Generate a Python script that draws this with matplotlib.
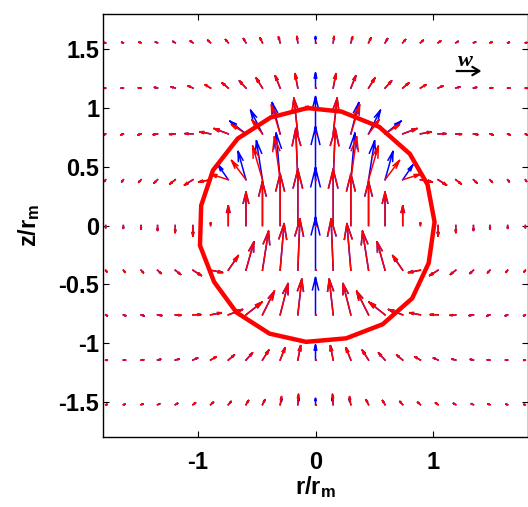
import numpy as np
import matplotlib
matplotlib.use('Agg')
import matplotlib.pyplot as plt

plt.rcParams['font.family'] = ['Liberation Sans', 'DejaVu Sans']
plt.rcParams['font.weight'] = 'bold'
plt.rcParams['axes.unicode_minus'] = False
plt.rcParams['mathtext.fontset'] = 'custom'
plt.rcParams['mathtext.rm'] = 'Liberation Sans:bold'
plt.rcParams['mathtext.it'] = 'Liberation Sans:bold'
plt.rcParams['mathtext.bf'] = 'Liberation Sans:bold'

# --- grid of the velocity field (r/r_m columns, z/r_m rows, top row first) ---
r_cols = [-1.78, -1.63, -1.48, -1.34, -1.19, -1.04, -0.89, -0.74, -0.59, -0.45, -0.30, -0.15, 0.0,
          0.15, 0.30, 0.45, 0.59, 0.74, 0.89, 1.04, 1.19, 1.34, 1.48, 1.63, 1.78]
z_rows = [1.555, 1.17, 0.78, 0.39, 0.0, -0.38, -0.76, -1.145, -1.525]

# velocity components in units of w (x100), blue set
blue_u = [
    [-6, -7, -8, -9, -10, -11, -12, -12, -11, -10, -7, -4, 0, 4, 7, 10, 11, 12, 12, 11, 10, 9, 8, 7, 6],
    [-7, -9, -11, -13, -17, -20, -23, -26, -28, -27, -21, -12, 0, 12, 21, 27, 28, 26, 23, 20, 17, 13, 11, 9, 7],
    [-7, -10, -13, -18, -24, -33, -46, -61, -69, -51, -34, -17, 0, 17, 34, 51, 69, 61, 46, 33, 24, 18, 13, 10, 7],
    [-5, -7, -10, -15, -23, -36, -51, -43, -34, -26, -17, -9, 0, 9, 17, 26, 34, 43, 51, 36, 23, 15, 10, 7, 5],
    [0, 0, 0, 0, 0, 0, 0, 0, 0, 0, 0, 0, 0, 0, 0, 0, 0, 0, 0, 0, 0, 0, 0, 0, 0],
    [5, 7, 10, 15, 23, 36, 51, 43, 34, 26, 17, 9, 0, -9, -17, -26, -34, -43, -51, -36, -23, -15, -10, -7, -5],
    [7, 10, 13, 18, 24, 33, 46, 61, 69, 51, 34, 17, 0, -17, -34, -51, -69, -61, -46, -33, -24, -18, -13, -10, -7],
    [7, 9, 11, 13, 17, 20, 23, 26, 28, 27, 21, 12, 0, -12, -21, -27, -28, -26, -23, -20, -17, -13, -11, -9, -7],
    [6, 7, 8, 9, 10, 11, 12, 12, 11, 10, 7, 4, 0, -4, -7, -10, -11, -12, -12, -11, -10, -9, -8, -7, -6],
]
blue_w = [
    [1, 2, 3, 4, 6, 8, 11, 14, 18, 21, 25, 27, 27, 27, 25, 21, 18, 14, 11, 8, 6, 4, 3, 2, 1],
    [-1, 0, 1, 3, 5, 9, 14, 22, 31, 43, 53, 62, 65, 62, 53, 43, 31, 22, 14, 9, 5, 3, 1, 0, -1],
    [-4, -4, -4, -3, -2, 1, 9, 23, 55, 102, 135, 154, 161, 154, 135, 102, 55, 23, 9, 1, -2, -3, -4, -4, -4],
    [-7, -9, -11, -14, -18, -23, -10, 63, 122, 168, 201, 221, 228, 221, 201, 168, 122, 63, -10, -23, -18, -14, -11, -9, -7],
    [-9, -12, -15, -21, -30, -45, 12, 85, 144, 191, 224, 243, 250, 243, 224, 191, 144, 85, 12, -45, -30, -21, -15, -12, -9],
    [-7, -9, -11, -14, -18, -23, -10, 63, 122, 168, 201, 221, 228, 221, 201, 168, 122, 63, -10, -23, -18, -14, -11, -9, -7],
    [-4, -4, -4, -3, -2, 1, 9, 23, 55, 102, 135, 154, 161, 154, 135, 102, 55, 23, 9, 1, -2, -3, -4, -4, -4],
    [-1, 0, 1, 3, 5, 9, 14, 22, 31, 43, 53, 62, 65, 62, 53, 43, 31, 22, 14, 9, 5, 3, 1, 0, -1],
    [1, 2, 3, 4, 6, 8, 11, 14, 18, 21, 25, 27, 27, 27, 25, 21, 18, 14, 11, 8, 6, 4, 3, 2, 1],
]

# red set
red_u = [
    [-6, -7, -8, -9, -10, -11, -12, -12, -11, -10, -7, -4, 0, 4, 7, 10, 11, 12, 12, 11, 10, 9, 8, 7, 6],
    [-7, -9, -11, -13, -17, -20, -23, -26, -28, -27, -21, -12, 0, 12, 21, 27, 28, 26, 23, 20, 17, 13, 11, 9, 7],
    [-7, -10, -13, -18, -24, -33, -46, -61, -62, -45, -38, -17, 0, 17, 38, 45, 62, 61, 46, 33, 24, 18, 13, 10, 7],
    [-5, -7, -10, -15, -23, -36, -51, -76, -62, -42, -25, -9, 0, 9, 25, 42, 62, 76, 51, 36, 23, 15, 10, 7, 5],
    [0, 0, 0, 0, 0, 0, 0, 0, 0, 0, 0, 0, 0, 0, 0, 0, 0, 0, 0, 0, 0, 0, 0, 0, 0],
    [5, 7, 10, 15, 23, 36, 51, 43, 34, 26, 17, 9, 0, -9, -17, -26, -34, -43, -51, -36, -23, -15, -10, -7, -5],
    [7, 10, 13, 18, 24, 33, 46, 61, 69, 51, 34, 17, 0, -17, -34, -51, -69, -61, -46, -33, -24, -18, -13, -10, -7],
    [7, 9, 11, 13, 17, 20, 23, 26, 28, 27, 21, 12, 0, -12, -21, -27, -28, -26, -23, -20, -17, -13, -11, -9, -7],
    [6, 7, 8, 9, 10, 11, 12, 12, 11, 10, 6, 3, 0, -3, -6, -10, -11, -12, -12, -11, -10, -9, -8, -7, -6],
]
red_w = [
    [1, 2, 3, 4, 6, 8, 11, 14, 18, 21, 25, 27, 0, 27, 25, 21, 18, 14, 11, 8, 6, 4, 3, 2, 1],
    [-1, 0, 1, 3, 5, 9, 14, 22, 31, 43, 53, 62, 0, 62, 53, 43, 31, 22, 14, 9, 5, 3, 1, 0, -1],
    [-4, -4, -4, -3, -2, 1, 9, 23, 40, 60, 125, 154, 0, 154, 125, 60, 40, 23, 9, 1, -2, -3, -4, -4, -4],
    [-7, -9, -11, -14, -18, -23, -10, 24, 83, 145, 185, 221, 0, 221, 185, 145, 83, 24, -10, -23, -18, -14, -11, -9, -7],
    [-9, -12, -15, -21, -30, -45, 12, 85, 144, 191, 224, 243, 0, 243, 224, 191, 144, 85, 12, -45, -30, -21, -15, -12, -9],
    [-7, -9, -11, -14, -18, -23, -10, 63, 122, 168, 201, 221, 0, 221, 201, 168, 122, 63, -10, -23, -18, -14, -11, -9, -7],
    [-4, -4, -4, -3, -2, 1, 9, 23, 55, 102, 135, 154, 0, 154, 135, 102, 55, 23, 9, 1, -2, -3, -4, -4, -4],
    [-1, 0, 1, 3, 5, 9, 14, 22, 31, 43, 53, 62, 0, 62, 53, 43, 31, 22, 14, 9, 5, 3, 1, 0, -1],
    [1, 2, 3, 4, 6, 8, 11, 14, 18, 21, 35, 45, 0, 45, 35, 21, 18, 14, 11, 8, 6, 4, 3, 2, 1],
]

# vortex boundary (red polygon)
boundary_r = [-0.07, -0.38, -0.66, -0.87, -0.97, -0.98, -0.86, -0.67, -0.39, -0.08,
              0.26, 0.57, 0.82, 0.96, 1.01, 0.95, 0.80, 0.54, 0.22, -0.07]
boundary_z = [1.00, 0.92, 0.74, 0.47, 0.17, -0.17, -0.48, -0.74, -0.92, -0.99,
              -0.96, -0.84, -0.62, -0.32, 0.03, 0.35, 0.61, 0.84, 0.97, 1.00]

ref_w = 1.07      # reference arrow "w"
SCALE = 0.197     # data units per unit of w
ALPHA, BETA = 0.33, 0.25   # matlab-like arrow heads


def arrow_paths(u_tab, w_tab):
    """Shafts and open heads as NaN separated polylines, plus zero vectors."""
    xs, ys, zx, zy = [], [], [], []
    for i, z0 in enumerate(z_rows):
        for j, r0 in enumerate(r_cols):
            u = u_tab[i][j] / 100.0 * SCALE
            w = w_tab[i][j] / 100.0 * SCALE
            if u == 0 and w == 0:
                zx.append(r0)
                zy.append(z0)
                continue
            tx, ty = r0 + u, z0 + w
            xs += [r0, tx, np.nan,
                   tx - ALPHA * (u + BETA * w), tx, tx - ALPHA * (u - BETA * w), np.nan]
            ys += [z0, ty, np.nan,
                   ty - ALPHA * (w - BETA * u), ty, ty - ALPHA * (w + BETA * u), np.nan]
    return xs, ys, zx, zy


fig = plt.figure(figsize=(5.28, 5.07), dpi=100)
ax = fig.add_axes([0.1957, 0.138, 0.8037, 0.8343])

bx, by, _, _ = arrow_paths(blue_u, blue_w)
ax.plot(bx, by, color='#0000ff', lw=1.1)
rx, ry, rzx, rzy = arrow_paths(red_u, red_w)
ax.plot(rx, ry, color='#ff0000', lw=1.1)
ax.plot(rzx, rzy, 's', color='#ff0000', ms=1.8, mew=0)

ax.plot(boundary_r, boundary_z, color='#ff0000', lw=3.2, zorder=5)

# reference arrow
ax.annotate('', xy=(1.197 + ref_w * SCALE, 1.315), xytext=(1.197, 1.315),
            arrowprops=dict(arrowstyle='->,head_length=0.5,head_width=0.3',
                            color='k', lw=1.6, shrinkA=0, shrinkB=0))
ax.text(1.273, 1.40, 'w', family='Liberation Serif', style='italic',
        weight='bold', fontsize=16, ha='center', va='center')

ax.set_xlim(-1.8, 1.8)
ax.set_ylim(-1.8, 1.8)
ax.set_xticks([-1, 0, 1])
ax.set_xticklabels(['-1', '0', '1'])
ax.set_yticks([-1.5, -1, -0.5, 0, 0.5, 1, 1.5])
ax.set_yticklabels(['-1.5', '-1', '-0.5', '0', '0.5', '1', '1.5'])
ax.tick_params(direction='in', top=True, right=True, length=4, width=0.8,
               labelsize=17)
ax.tick_params(axis='x', pad=10)
ax.tick_params(axis='y', pad=3)
for s in ax.spines.values():
    s.set_linewidth(1.0)

ax.set_xlabel(r'r/r$_m$', fontsize=17, fontweight='bold')
ax.xaxis.set_label_coords(0.5, -0.088)
ax.set_ylabel(r'z/r$_m$', fontsize=17, fontweight='bold')
ax.yaxis.set_label_coords(-0.145, 0.5)

fig.savefig('out.png', dpi=100)
